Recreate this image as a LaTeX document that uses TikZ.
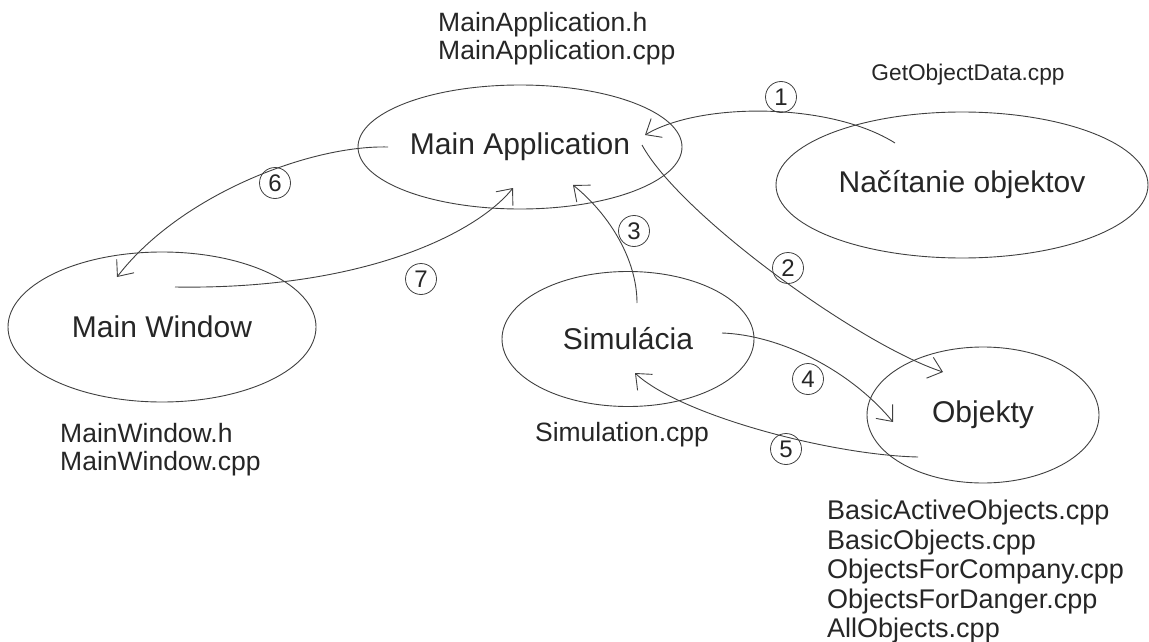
\documentclass[tikz,border=0pt]{standalone}
\usepackage{fontspec}
\setmainfont{Liberation Sans}
\usetikzlibrary{arrows.meta,shapes.geometric,calc}

\tikzset{
  module/.style={ellipse, draw=black!75, line width=0.9pt, inner sep=0pt,
    font=\fontsize{30}{36}\selectfont, text=black!85},
  files/.style={align=left, anchor=west, inner sep=0pt,
    font=\fontsize{26.5}{28}\selectfont, text=black!85},
  num/.style={circle, draw=black!75, line width=0.8pt, minimum size=31pt,
    inner sep=0pt, font=\fontsize{24}{24}\selectfont, text=black!85},
  flow/.style={->, draw=black!75, line width=0.9pt},
}

\begin{document}
\begin{tikzpicture}[x=1pt,y=-1pt,>={Straight Barb[angle=80:17pt]}]
  \useasboundingbox (0,0) rectangle (1149,642);

  %modules
  \node[module, minimum width=324pt, minimum height=124pt] (app) at (520,147) {Main Application};
  \node[module, minimum width=372pt, minimum height=146pt] (nac) at (962,185) {Načítanie objektov};
  \node[module, minimum width=308pt, minimum height=150pt] (win) at (162,327) {Main Window};
  \node[module, minimum width=252pt, minimum height=135pt] (sim) at (628,339) {Simulácia};
  \node[module, minimum width=232pt, minimum height=136pt] (obj) at (983,415) {Objekty};

  %source files
  \node[files] (appFiles) at (438,39) {MainApplication.h\\MainApplication.cpp};
  \node[files, anchor=center, font=\fontsize{22.7}{26}\selectfont] (nacFiles) at (968,75) {GetObjectData.cpp};
  \node[files] (winFiles) at (60,450) {MainWindow.h\\MainWindow.cpp};
  \node[files, anchor=center] (simFiles) at (622,435) {Simulation.cpp};
  \node[files, font=\fontsize{27}{29.5}\selectfont] (objFiles) at (827,572)
    {BasicActiveObjects.cpp\\BasicObjects.cpp\\ObjectsForCompany.cpp\\ObjectsForDanger.cpp\\AllObjects.cpp};

  %ends of the arrows
  \coordinate (nac-out1) at ($(nac.center)+(-67,-42)$);
  \coordinate (app-in1)  at ($(app.center)+(125,-12)$);
  \coordinate (app-out2) at ($(app.center)+(122,-2)$);
  \coordinate (obj-in2)  at ($(obj.center)+(-40,-43)$);
  \coordinate (sim-out3) at ($(sim.center)+(9,-36)$);
  \coordinate (app-in3)  at ($(app.center)+(53,38)$);
  \coordinate (sim-out4) at ($(sim.center)+(94,-6)$);
  \coordinate (obj-in4)  at ($(obj.center)+(-90,7)$);
  \coordinate (obj-out5) at ($(obj.center)+(-65,42)$);
  \coordinate (sim-in5)  at ($(sim.center)+(7,34)$);
  \coordinate (app-out6) at ($(app.center)+(-132,0)$);
  \coordinate (win-in6)  at ($(win.center)+(-45,-50)$);
  \coordinate (win-out7) at ($(win.center)+(13,-40)$);
  \coordinate (app-in7)  at ($(app.center)+(-7,41)$);

  \draw[flow] (nac-out1) .. controls +(-65,-41) and +(55,-33) .. (app-in1);
  \draw[flow] (app-out2) .. controls +(38,70) and +(-83,-27) .. (obj-in2);
  \draw[flow] (sim-out3) .. controls +(0,-43) and +(37,30) .. (app-in3);
  \draw[flow] (sim-out4) .. controls +(58,2) and +(-43,-52) .. (obj-in4);
  \draw[flow] (obj-out5) .. controls +(-88,-2) and +(45,42) .. (sim-in5);
  \draw[flow] (app-out6) .. controls +(-78,-2) and +(63,-82) .. (win-in6);
  \draw[flow] (win-out7) .. controls +(185,3) and +(-38,47) .. (app-in7);

  %step numbers
  \node[num] (n1) at (781,97) {1};
  \node[num] (n2) at (788,268) {2};
  \node[num] (n3) at (634,231) {3};
  \node[num] (n4) at (808,379) {4};
  \node[num] (n5) at (786,449) {5};
  \node[num] (n6) at (275,183) {6};
  \node[num] (n7) at (421,279) {7};
\end{tikzpicture}
\end{document}
